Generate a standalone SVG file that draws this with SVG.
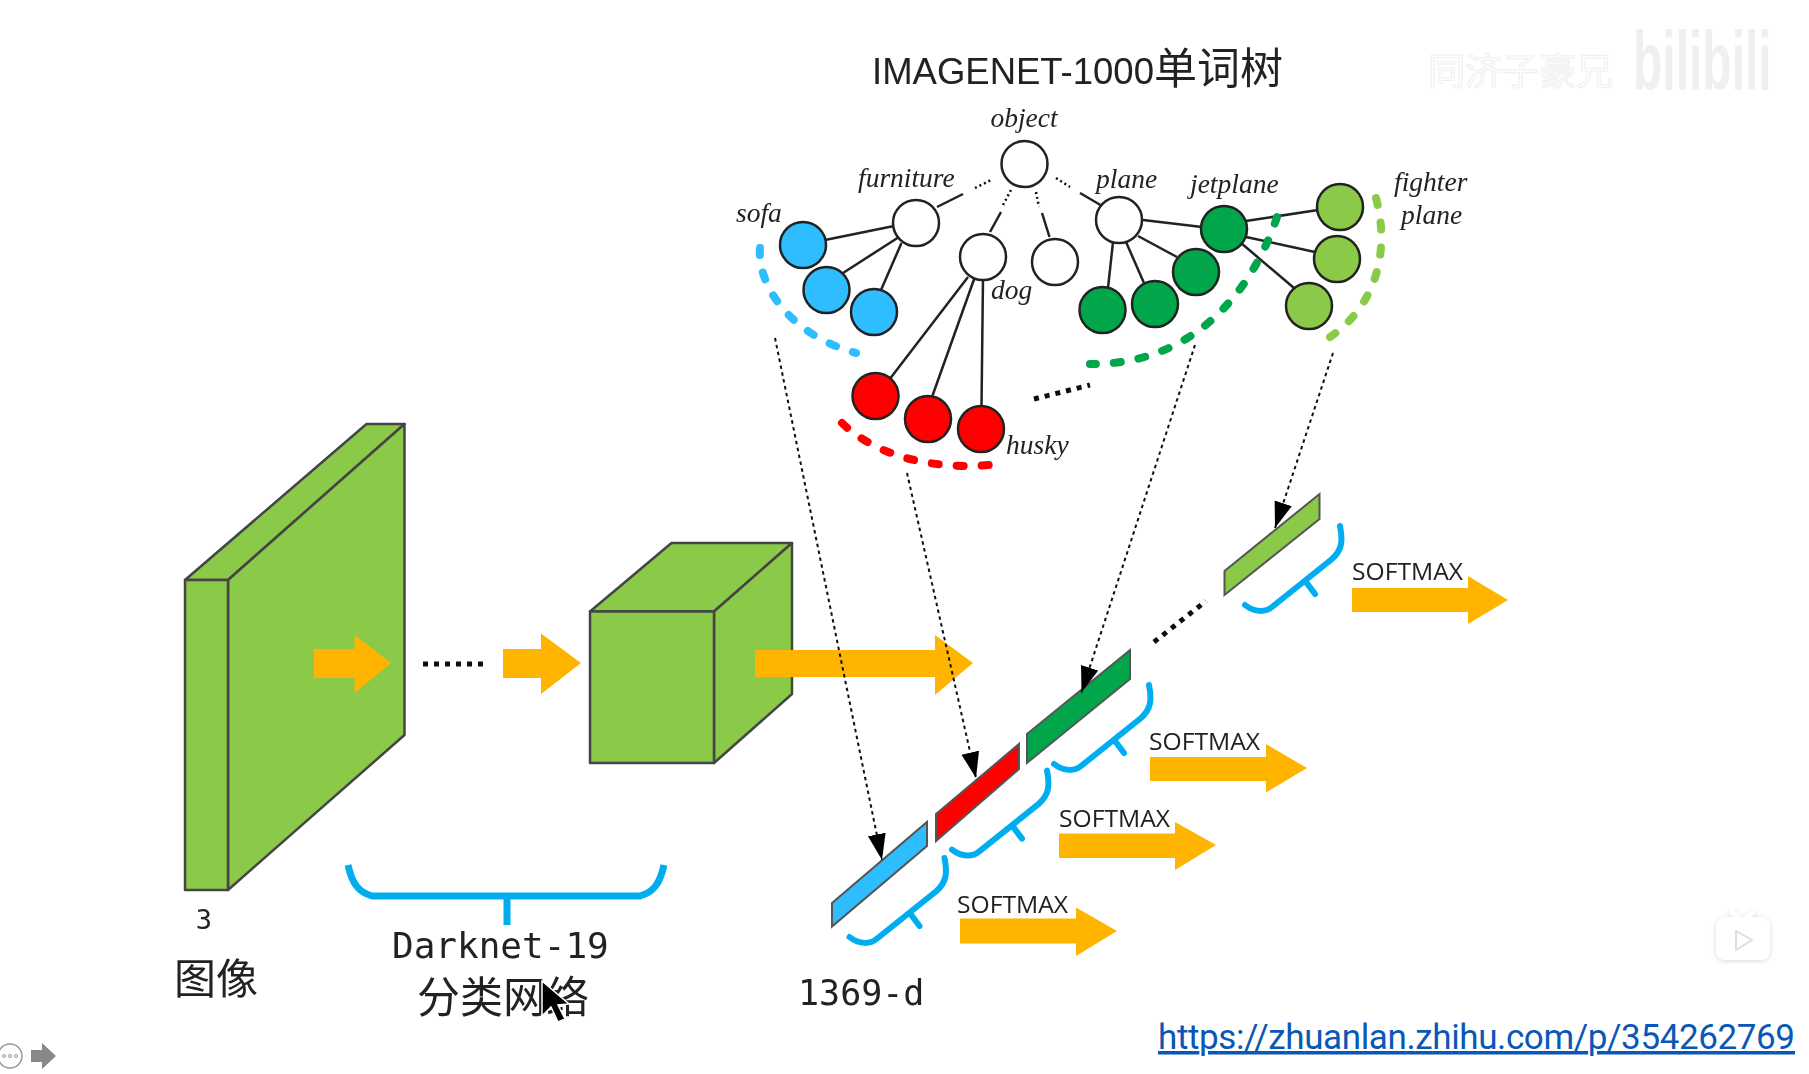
<svg xmlns="http://www.w3.org/2000/svg" xmlns:xlink="http://www.w3.org/1999/xlink" width="1809" height="1074" viewBox="0 0 1809 1074">
<style>
.it{font-family:"Liberation Serif",serif;font-style:italic;font-size:27.500px;fill:#222}
.mono{font-family:"DejaVu Sans Mono","Noto Sans CJK SC",monospace;fill:#222}
.zh{font-family:"Noto Sans CJK SC",sans-serif;fill:#222}
.sm{font-family:"Open Sans","Liberation Sans",sans-serif;font-size:24px;fill:#222}
.box{fill:#8BC949;stroke:#444;stroke-width:2.5;stroke-linejoin:round}
.edge{stroke:#222;stroke-width:2.5;fill:none}
.dots{stroke:#111;stroke-width:2.5;fill:none;stroke-dasharray:2 3}
.n{stroke:#222;stroke-width:2.5}
.w{fill:#fff}.b{fill:#2DBDFF}.r{fill:#FF0000}.g{fill:#00A64A}.l{fill:#8BC949}
.arc{fill:none;stroke-width:8;stroke-linecap:round;stroke-dasharray:7 18}
.brace{fill:none;stroke:#00AEEF;stroke-width:6;stroke-linecap:round}
.or{fill:#FFB400}
.lead{stroke:#111;stroke-width:2;stroke-dasharray:3.5 3.5;fill:none;marker-end:url(#ah)}
.bd{stroke:#111;stroke-width:5;stroke-dasharray:5 6;fill:none}
.bar{stroke:#555;stroke-width:2}
</style>
<defs>
<marker id="ah" markerUnits="userSpaceOnUse" markerWidth="28" markerHeight="20" refX="26" refY="9" orient="auto"><path d="M0 0L26 9L0 18Z" fill="#000"/></marker>
<filter id="sh" x="-30%" y="-30%" width="160%" height="160%"><feDropShadow dx="0" dy="1" stdDeviation="2.5" flood-color="#000" flood-opacity=".16"/></filter>
<filter id="soft" filterUnits="userSpaceOnUse" x="0" y="0" width="1809" height="1074"><feGaussianBlur stdDeviation="0.6"/></filter>
<path id="br" d="M1340 526C1343 541 1342 550 1332 559L1272 607C1266 612 1255 613 1245 605M1306 582L1315 594"/>
</defs>
<rect width="1809" height="1074" fill="#fff"/>

<g id="watermark">
<text x="1428" y="85" font-family="Noto Sans CJK SC,sans-serif" font-size="37" fill="#fff" stroke="#efefef" stroke-width="1">同济子豪兄</text>
<text transform="translate(1633 90) scale(.8 1.4)" font-family="Liberation Sans,sans-serif" font-weight="700" font-size="60" fill="#f0f0f0">bilibili</text>
</g>

<g id="diagram" filter="url(#soft)">
<text id="title" x="872" y="84" class="zh" font-size="43"><tspan font-family="Liberation Sans,sans-serif" font-size="36.500">IMAGENET-1000</tspan><tspan>单词树</tspan></text>

<g id="connectors">
<path class="edge" d="M963 194L937 207M1001 212L990 232M1042 213L1049.500 237M1080 193L1100.500 205"/>
<path class="dots" d="M975 188L991 180M1011 190L1003 205M1036 192L1039 207M1056 178L1070 187"/>
<path class="edge" d="M894 226L825 240M899 237L843 273M901.500 243L881 290"/>
<path class="edge" d="M968 277L889 380M974.500 278L932 397M983 278L981.500 407"/>
<path class="edge" d="M1143 220L1202 227M1138 236L1177 257M1126 242L1144 283M1113 242L1108 288"/>
<path class="edge" d="M1246 221L1318 210M1246 237L1315 252M1241 243L1294 288"/>
</g>

<g id="node-object"><circle class="n w" cx="1024.500" cy="164" r="23"/><text class="it" x="1024" y="127" text-anchor="middle">object</text></g>
<g id="node-furniture"><circle class="n w" cx="916" cy="223" r="23"/><text class="it" x="858" y="187">furniture</text></g>
<g id="node-dog"><circle class="n w" cx="983" cy="257" r="23"/><text class="it" x="991" y="299">dog</text></g>
<g id="node-blank"><circle class="n w" cx="1055" cy="262" r="23"/></g>
<g id="node-plane"><circle class="n w" cx="1119" cy="220" r="23"/><text class="it" x="1096" y="188">plane</text></g>
<g id="node-sofa"><circle class="n b" cx="803" cy="245" r="23"/><text class="it" x="736" y="222">sofa</text></g>
<g id="node-blue2"><circle class="n b" cx="826.500" cy="290" r="23"/></g>
<g id="node-blue3"><circle class="n b" cx="874" cy="312" r="23"/></g>
<g id="node-red1"><circle class="n r" cx="875.500" cy="396" r="23"/></g>
<g id="node-red2"><circle class="n r" cx="928" cy="419" r="23"/></g>
<g id="node-husky"><circle class="n r" cx="981" cy="429" r="23"/><text class="it" x="1006" y="454">husky</text></g>
<g id="node-jetplane"><circle class="n g" cx="1224" cy="229" r="23"/><text class="it" x="1190" y="193">jetplane</text></g>
<g id="node-green2"><circle class="n g" cx="1196" cy="272" r="23"/></g>
<g id="node-green3"><circle class="n g" cx="1155" cy="304" r="23"/></g>
<g id="node-green4"><circle class="n g" cx="1102.500" cy="310" r="23"/></g>
<g id="node-fighter"><circle class="n l" cx="1340" cy="207" r="23"/><text class="it" x="1394" y="191">fighter</text><text class="it" x="1401" y="224">plane</text></g>
<g id="node-light2"><circle class="n l" cx="1337" cy="259" r="23"/></g>
<g id="node-light3"><circle class="n l" cx="1309" cy="306" r="23"/></g>

<g id="arcs">
<path class="arc" stroke="#2DBDFF" d="M760 248C757 285 790 335 856 353"/>
<path class="arc" stroke="#00A64A" d="M1277 217C1258 275 1205 365 1090 364"/>
<path class="arc" stroke="#8BC949" d="M1376 198C1390 250 1377 305 1330 337"/>
<path class="arc" stroke="#FF0000" d="M842 423C875 455 930 470 990 465"/>
<path class="bd" d="M1034 399L1090 385" stroke-dasharray="4 5"/>
</g>

<g id="node-image">
<path class="box" d="M185 580L366.500 424H404.500L228 580Z"/>
<path class="box" d="M228 580L404.500 424V735L228 890Z"/>
<rect class="box" x="185" y="580" width="43" height="310"/>
<text class="mono" x="204" y="929" text-anchor="middle" font-size="27">3</text>
<text class="zh" x="174" y="994" font-size="42">图像</text>
</g>

<g id="node-feature">
<path class="box" d="M590 611.500L671.500 543H792L714 611.500Z"/>
<path class="box" d="M714 611.500L792 543V694L714 763Z"/>
<rect class="box" x="590" y="611.500" width="124" height="151.500"/>
</g>

<g id="flow">
<path class="or" d="M314 649H354.500V635L391 663L354.500 693V678H314Z"/>
<path class="bd" d="M423 664H484"/>
<path class="or" d="M503 649H541V633.500L581 663L541 694V678H503Z"/>
<path class="or" d="M755 650H935V635L973 663L935 695V677H755Z"/>
</g>

<g id="node-darknet">
<path class="brace" style="stroke-width:7;stroke-linecap:butt" d="M348 865C352 883 358 892 372 896H640C654 892 660 883 664 865M507 896V925"/>
<text class="mono" x="392" y="958" font-size="36">Darknet-19</text>
<text class="zh" x="417" y="1013" font-size="43">分类网络</text>
</g>

<g id="node-bar-sofa"><path class="bar b" d="M832 903L927 822V846L832 926.500Z"/><use href="#br" class="brace" transform="translate(-395.500 332)"/></g>
<g id="node-bar-dog"><path class="bar r" d="M936 814L1019 744V769L936 841Z"/><use href="#br" class="brace" transform="translate(-293 244.600)"/></g>
<g id="node-bar-jet"><path class="bar g" d="M1027 734L1130 650V679L1027 763Z"/><use href="#br" class="brace" transform="translate(-191 159)"/></g>
<g id="node-bar-fighter"><path class="bar l" d="M1224.500 571L1319.500 494V519L1224.500 595Z"/><use href="#br" class="brace"/></g>
<path id="bar-dots" class="bd" d="M1154 642L1206 601" stroke-dasharray="5 7"/>

<g id="leaders">
<path class="lead" d="M775 338L882 860"/>
<path class="lead" d="M907 473L976 778"/>
<path class="lead" d="M1195 345L1081.500 692.500"/>
<path class="lead" d="M1333 353L1275 528"/>
</g>

<g id="softmax">
<path class="or" d="M960 918.500H1076V907.500L1117 931L1076 956V943.500H960Z"/>
<text class="sm" x="957" y="913" textLength="111" lengthAdjust="spacingAndGlyphs">SOFTMAX</text>
<path class="or" d="M1059 833.500H1175V822L1216 845L1175 870V858H1059Z"/>
<text class="sm" x="1059" y="827" textLength="111" lengthAdjust="spacingAndGlyphs">SOFTMAX</text>
<path class="or" d="M1150 757H1266V744L1307 768L1266 792.500V781H1150Z"/>
<text class="sm" x="1149" y="750" textLength="111" lengthAdjust="spacingAndGlyphs">SOFTMAX</text>
<path class="or" d="M1352 588H1468V576L1508 600L1468 624V612H1352Z"/>
<text class="sm" x="1352" y="580" textLength="111" lengthAdjust="spacingAndGlyphs">SOFTMAX</text>
</g>

<text id="dim" x="798" y="1005" class="mono" font-size="35">1369-d</text>

<g id="cursor"><path d="M542 981V1016L551 1007L558 1022L565 1019L558 1005L569 1004Z" fill="#000" stroke="#fff" stroke-width="1.500"/></g>
</g>

<text id="url" x="1158" y="1049" font-family="Roboto,Liberation Sans,sans-serif" font-size="35" fill="#0A57B5" text-decoration="underline" textLength="637">https://zhuanlan.zhihu.com/p/354262769</text>

<g id="slide-controls">
<circle cx="10" cy="1056" r="12" fill="#fff" stroke="#999" stroke-width="1.500"/>
<circle cx="4" cy="1056" r="1.500" fill="none" stroke="#999"/><circle cx="10" cy="1056" r="1.500" fill="none" stroke="#999"/><circle cx="16" cy="1056" r="1.500" fill="none" stroke="#999"/>
<path d="M31 1050H42V1043L56 1056L42 1069V1062H31Z" fill="#888"/>
</g>

<g id="player-icon" filter="url(#sh)">
<path d="M1732 912L1739 919M1753 912L1746 919" stroke="#fff" stroke-width="5" stroke-linecap="round"/>
<rect x="1716" y="917" width="54" height="43" rx="9" fill="#fff"/>
<path d="M1736 931L1752 940L1736 950Z" fill="#fff" stroke="#ddd" stroke-width="2" stroke-linejoin="round"/>
</g>
</svg>
